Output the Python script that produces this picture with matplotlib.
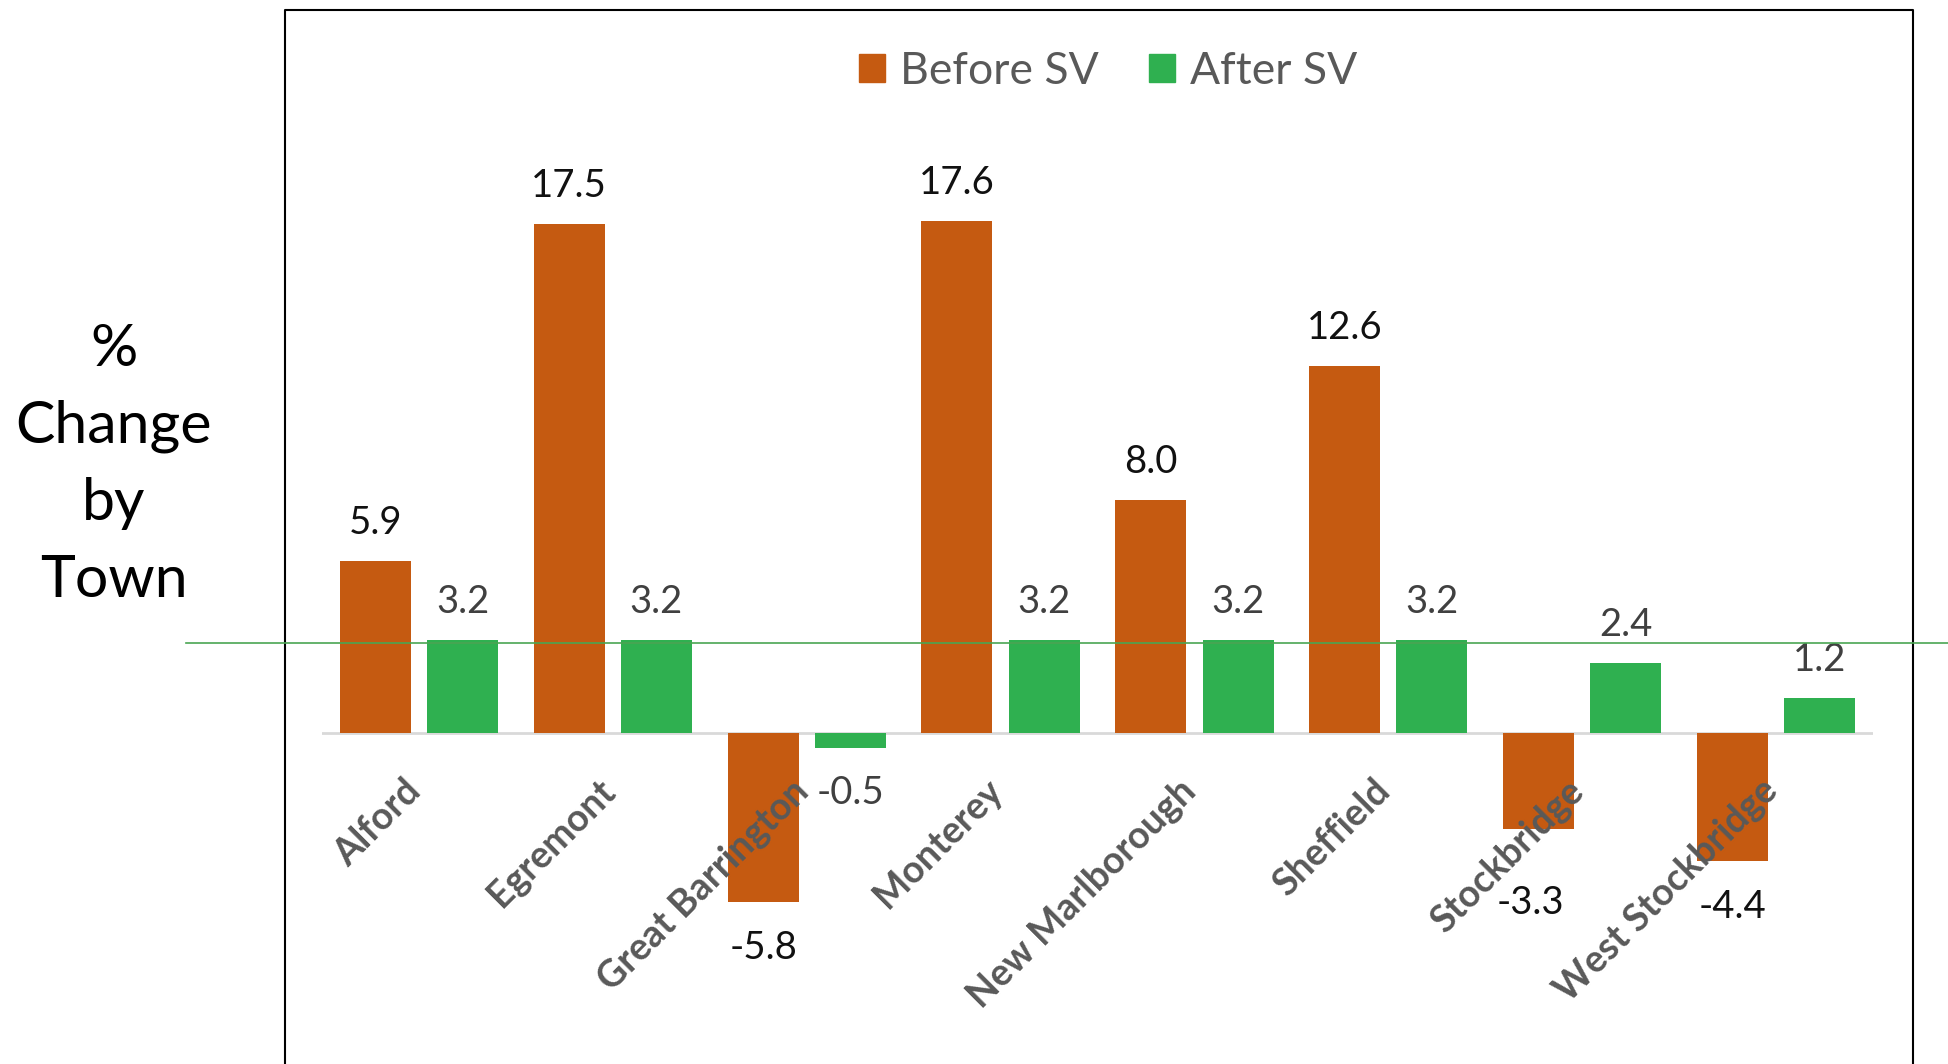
import matplotlib
matplotlib.use("Agg")
import matplotlib.pyplot as plt
from matplotlib.patches import Patch
from matplotlib.lines import Line2D
from matplotlib.transforms import blended_transform_factory
import numpy as np

plt.rcParams['font.family'] = ['Lato', 'DejaVu Sans']

# % change per town, before and after the SV
towns = ["Alford", "Egremont", "Great Barrington", "Monterey",
         "New Marlborough", "Sheffield", "Stockbridge", "West Stockbridge"]
before_sv = [5.9, 17.5, -5.8, 17.6, 8.0, 12.6, -3.3, -4.4]
after_sv = [3.2, 3.2, -0.5, 3.2, 3.2, 3.2, 2.4, 1.2]
series_names = ["Before SV", "After SV"]
y_title = "%\nChange\nby\nTown"
ref_level = 3.1

ORANGE = '#C55A11'
GREEN = '#2FB050'
W, H = 1949, 1064

fig = plt.figure(figsize=(W / 100, H / 100), dpi=100)
ax = fig.add_axes([322 / W, 0, 1551 / W, 1])
ax.set_xlim(-0.5, len(towns) - 0.5)
ax.set_ylim(-11.37, 25.19)
ax.axis('off')

x = np.arange(len(towns))
bw = 0.366
off = 0.225
bars_b = ax.bar(x - off, before_sv, bw, color=ORANGE, zorder=2)
bars_a = ax.bar(x + off, after_sv, bw, color=GREEN, zorder=2)
ax.axhline(0, color='#D9D9D9', lw=2, zorder=1)

# labels that were dragged further down to clear the category text
extra_drop = {(0, 6): (-6, 20)}

# value labels above / below each bar
for s, (bars, vals, tc) in enumerate([(bars_b, before_sv, '#111111'),
                                      (bars_a, after_sv, '#404040')]):
    for i, (rect, v) in enumerate(zip(bars, vals)):
        xc = rect.get_x() + rect.get_width() / 2
        if v >= 0:
            ax.annotate(f"{v:.1f}", (xc, v), xytext=(0, 19.5), textcoords='offset points',
                        ha='center', va='baseline', fontsize=27.5, color=tc)
        else:
            ddx, ddy = extra_drop.get((s, i), (0, 0))
            ax.annotate(f"{v:.1f}", (xc, v), xytext=(ddx, -20 - ddy), textcoords='offset points',
                        ha='center', va='top', fontsize=27.5, color=tc)

# rotated category labels
for i, t in enumerate(towns):
    ax.text(i - 0.02, -1.8, t, rotation=45, rotation_mode='anchor',
            ha='right', va='center', fontsize=27, fontweight='bold', color='#595959')

fig.legend(handles=[Patch(color=ORANGE, label=series_names[0]),
                    Patch(color=GREEN, label=series_names[1])],
           loc='center', bbox_to_anchor=(0.5685, 0.933), ncol=2, frameon=False,
           fontsize=32, handlelength=0.59, handleheight=0.59, handletextpad=0.34,
           columnspacing=1.13, labelcolor='#595959')

# horizontal reference line running past the plot area
trans = blended_transform_factory(fig.transFigure, ax.transData)
fig.add_artist(Line2D([186 / W, 1], [ref_level, ref_level], transform=trans,
                      color='#4aa553', lw=1.2, zorder=5))

# outer frame (open at the bottom)
fx0, fx1, fy = 285 / W, 1913 / W, 1 - 10 / H
fig.add_artist(Line2D([fx0, fx0, fx1, fx1], [-0.05, fy, fy, -0.05],
                      transform=fig.transFigure, color='black', lw=1.5))

fig.text(114 / W, 0.563, y_title, ha='center', va='center', fontsize=42.5,
         linespacing=1.55, color='black')

fig.savefig('out.png', dpi=100)
